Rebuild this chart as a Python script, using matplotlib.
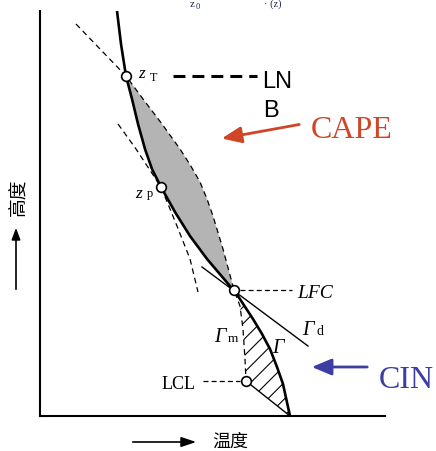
import matplotlib
matplotlib.use('Agg')
import matplotlib.pyplot as plt
from matplotlib.patches import Polygon, FancyArrowPatch

W, H = 436, 452

# ---- data (temperature index, height index; arbitrary units 0-100)
env_T = [22.32, 23.48, 24.93, 26.67, 28.41, 30.43, 32.46, 35.07, 39.13, 43.48,
         48.41, 55.07, 56.23, 61.74, 64.35, 66.67, 68.70, 70.43, 72.46]
env_z = [100.0, 91.85, 83.95, 78.27, 72.10, 65.93, 60.99, 56.54, 50.37, 44.44,
         38.77, 32.10, 31.11, 23.95, 20.25, 16.54, 12.10, 7.90, 0.0]
I_ZT, I_ZP, I_LFC, I_GND = 2, 7, 12, 18

moist_T = [10.43, 17.39, 24.93, 29.86, 35.36, 40.58, 43.60, 46.38, 48.40, 50.14,
           53.04, 56.23, 57.97, 58.84, 59.42, 59.71]
moist_z = [96.79, 90.62, 83.95, 78.27, 72.10, 65.93, 61.90, 57.78, 53.60, 49.38,
           41.23, 31.11, 27.16, 21.48, 14.07, 8.64]
J_ZT, J_LFC = 2, 11

moist2_T = [22.61, 27.83, 35.07, 39.71, 43.48, 45.80]
moist2_z = [72.10, 65.93, 56.54, 46.91, 38.77, 30.62]

dry_T = [46.96, 77.68]
dry_z = [36.79, 17.28]

parcel_T = [59.71, 72.46]
parcel_z = [8.64, 0.0]

lnb_T = [38.55, 62.90]
lfc_T = [57.97, 73.04]
lcl_T = [47.25, 57.97]

fig = plt.figure(figsize=(W / 100, H / 100), dpi=100)
ax = fig.add_axes([40 / W, (H - 417) / H, 345 / W, 405 / H])
ax.set_xlim(0, 100)
ax.set_ylim(0, 100)
ax.set_xticks([])
ax.set_yticks([])
for s in ['top', 'right']:
    ax.spines[s].set_visible(False)
for s in ['left', 'bottom']:
    ax.spines[s].set_linewidth(1.5)

plt.rcParams['hatch.linewidth'] = 0.8

# CAPE region
cape = list(zip(env_T[I_ZT:I_LFC + 1], env_z[I_ZT:I_LFC + 1])) + \
    list(zip(moist_T[J_ZT:J_LFC + 1], moist_z[J_ZT:J_LFC + 1]))[::-1]
ax.add_patch(Polygon(cape, closed=True, facecolor='#b4b4b4', edgecolor='none', zorder=1))

# CIN region (hatched)
cin = list(zip(env_T[I_LFC:], env_z[I_LFC:])) + [(parcel_T[0], parcel_z[0])] + \
    list(zip(moist_T[J_LFC:], moist_z[J_LFC:]))[::-1]
ax.add_patch(Polygon(cin, closed=True, facecolor='none', edgecolor='black',
                     linewidth=0, hatch='//', zorder=1))

dash = (0, (4.5, 3.2))
ax.plot(moist_T, moist_z, color='black', lw=0.9, ls=dash, zorder=2, clip_on=False)
ax.plot(moist2_T, moist2_z, color='black', lw=0.9, ls=dash, zorder=2, clip_on=False)
ax.plot(dry_T, dry_z, color='black', lw=1.0, zorder=2, clip_on=False)
ax.plot(parcel_T, parcel_z, color='black', lw=1.0, zorder=2, clip_on=False)
ax.plot(env_T, env_z, color='black', lw=1.9, zorder=3, clip_on=False,
        solid_capstyle='butt', solid_joinstyle='round')

# leader lines
ax.plot(lnb_T, [env_z[I_ZT]] * 2, color='black', lw=2.2, ls=(0, (3.9, 2.3)), clip_on=False)
ax.plot(lfc_T, [env_z[I_LFC]] * 2, color='black', lw=0.9, ls=(0, (4.0, 2.5)), clip_on=False)
ax.plot(lcl_T, [moist_z[-1]] * 2, color='black', lw=0.9, ls=(0, (4.0, 2.5)), clip_on=False)

# markers
mk_T = [env_T[I_ZT], env_T[I_ZP], env_T[I_LFC], moist_T[-1]]
mk_z = [env_z[I_ZT], env_z[I_ZP], env_z[I_LFC], moist_z[-1]]
ax.plot(mk_T, mk_z, 'o', ms=7, mfc='white', mec='black', mew=1.2, zorder=5, clip_on=False)


def P(px, py):
    return (px / W, 1 - py / H)


serif = 'Liberation Serif'
cjk = ['Noto Sans CJK SC', 'DejaVu Sans']


def txt(px, py, s, size, **kw):
    kw.setdefault('family', serif)
    kw.setdefault('va', 'baseline')
    kw.setdefault('ha', 'left')
    fig.text(*P(px, py), s, fontsize=size, **kw)


# labels
txt(138, 78, 'z', 12.5, style='italic')
txt(150, 81, 'T', 8.7)
txt(135, 198, 'z', 12.5, style='italic')
txt(147, 197, 'p', 9)
txt(297, 298, 'LFC', 14, style='italic')
txt(162, 389, 'LCL', 13)
txt(214, 342, 'Γ', 14.5, style='italic')
txt(228, 342, 'm', 9.5)
txt(302, 335, 'Γ', 14.5, style='italic')
txt(316, 335, 'd', 10)
txt(272, 353, 'Γ', 14.5, style='italic')
txt(262, 88, 'LN', 17, family='Liberation Sans')
txt(263, 117, 'B', 17, family='Liberation Sans')
txt(311, 138, 'CAPE', 23, color='#cf4526')
txt(379, 388, 'CIN', 23, color='#3d3ea2')

# small texts at the very top (cut off in the reference)
txt(190, 7, 'z', 8, color='#1d2350')
txt(196, 9, '0', 6, color='#1d2350')
txt(264, 7, '· (z)', 7.5, color='#1d2350')

# axis labels
fig.text(*P(18, 197), '高度', fontsize=13.5, family=cjk, rotation=90,
         ha='center', va='center')
fig.text(*P(230, 442), '温度', fontsize=13, family=cjk, ha='center', va='center')

# arrows
fig.add_artist(FancyArrowPatch(
    P(16, 293), P(16, 226), transform=fig.transFigure,
    arrowstyle='-|>,head_length=7,head_width=2.6', color='black', lw=1.2, mutation_scale=1))
fig.add_artist(FancyArrowPatch(
    P(130, 443), P(199, 443), transform=fig.transFigure,
    arrowstyle='-|>,head_length=9,head_width=3', color='black', lw=1.2, mutation_scale=1))
fig.add_artist(FancyArrowPatch(
    P(302, 125), P(219, 140), transform=fig.transFigure,
    arrowstyle='-|>,head_length=12,head_width=5', color='#cf4526', lw=2.0, mutation_scale=1))
fig.add_artist(FancyArrowPatch(
    P(370, 368), P(309, 368), transform=fig.transFigure,
    arrowstyle='-|>,head_length=12,head_width=5', color='#3d3ea2', lw=2.0, mutation_scale=1))

fig.savefig('out.png', dpi=100)
